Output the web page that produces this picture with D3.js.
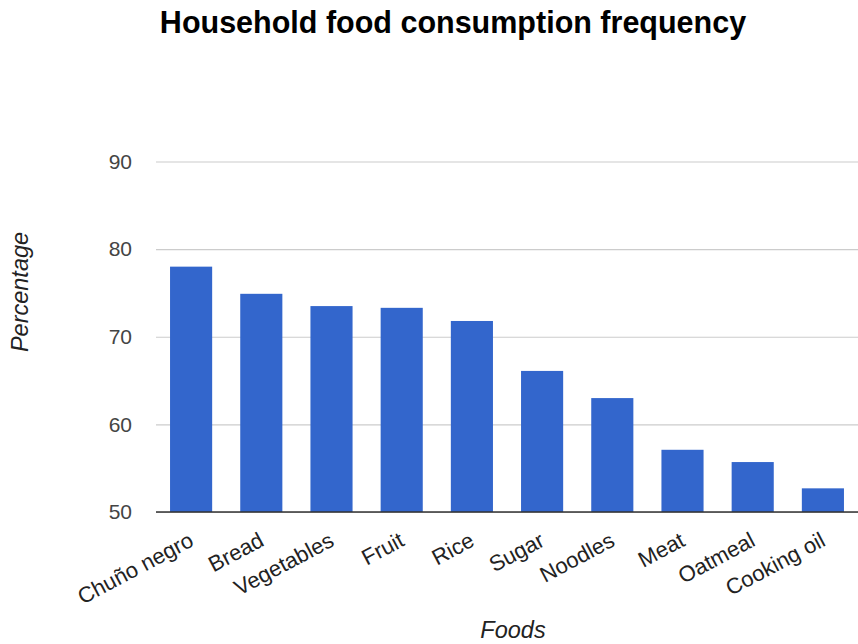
<!DOCTYPE html>
<html>
<head>
<meta charset="utf-8">
<script src="https://cdn.jsdelivr.net/npm/d3@7"></script>
<style>
  html, body { margin: 0; padding: 0; background: #fff; }
  svg { display: block; font-family: "Liberation Sans", Arial, sans-serif; }
</style>
</head>
<body>
<svg id="chart" width="858" height="644"></svg>
<script>
// Share of households consuming each food (%)
const foods = ["Chuño negro", "Bread", "Vegetables", "Fruit", "Rice", "Sugar", "Noodles", "Meat", "Oatmeal", "Cooking oil"];
const percentages = [78.0, 74.9, 73.5, 73.3, 71.8, 66.1, 63.0, 57.1, 55.7, 52.7];
const yTicks = [50, 60, 70, 80, 90];

const svg = d3.select("#chart");
const plot = { left: 156, right: 858, top: 161.5, bottom: 512 };

const x = d3.scaleBand().domain(foods).range([plot.left, plot.right]).paddingInner(0.4).paddingOuter(0.2);
const y = d3.scaleLinear().domain([50, 90]).range([plot.bottom, plot.top]);

// Title
svg.append("text")
  .attr("x", 453).attr("y", 33)
  .attr("text-anchor", "middle")
  .attr("font-size", 30.5).attr("font-weight", "bold").attr("fill", "#000")
  .text("Household food consumption frequency");

// Horizontal gridlines + y tick labels
const yAxis = d3.axisLeft(y).tickValues(yTicks).tickSize(-(plot.right - plot.left)).tickPadding(24);
const gy = svg.append("g").attr("transform", `translate(${plot.left},0)`).call(yAxis);
gy.select(".domain").remove();
gy.selectAll(".tick line").attr("stroke", "#cccccc").attr("stroke-width", 1.2);
gy.selectAll(".tick text")
  .attr("font-size", 21).attr("fill", "#444")
  .attr("font-family", "Liberation Sans, Arial, sans-serif");

// Bars
svg.append("g").selectAll("rect")
  .data(foods.map((f, i) => ({ food: f, value: percentages[i] })))
  .join("rect")
  .attr("x", d => x(d.food))
  .attr("y", d => y(d.value))
  .attr("width", x.bandwidth())
  .attr("height", d => y(50) - y(d.value))
  .attr("fill", "#3366cc");

// Baseline and category labels
const xAxis = d3.axisBottom(x).tickSize(0).tickPadding(0);
const gx = svg.append("g").attr("transform", `translate(0,${plot.bottom})`).call(xAxis);
gx.select(".domain").attr("stroke", "#333").attr("stroke-width", 1.5)
  .attr("d", `M${plot.left},0H${plot.right}`);
gx.selectAll(".tick text")
  .attr("font-size", 22).attr("fill", "#222")
  .attr("font-family", "Liberation Sans, Arial, sans-serif")
  .attr("text-anchor", "end")
  .attr("y", 0).attr("dy", null)
  .attr("transform", "translate(4,33) rotate(-28)");

// Axis titles
svg.append("text")
  .attr("x", 513).attr("y", 638)
  .attr("text-anchor", "middle")
  .attr("font-size", 23.5).attr("font-style", "italic").attr("fill", "#222")
  .text("Foods");

svg.append("text")
  .attr("transform", "translate(28,292) rotate(-90)")
  .attr("text-anchor", "middle")
  .attr("font-size", 23.5).attr("font-style", "italic").attr("fill", "#222")
  .text("Percentage");
</script>
</body>
</html>
